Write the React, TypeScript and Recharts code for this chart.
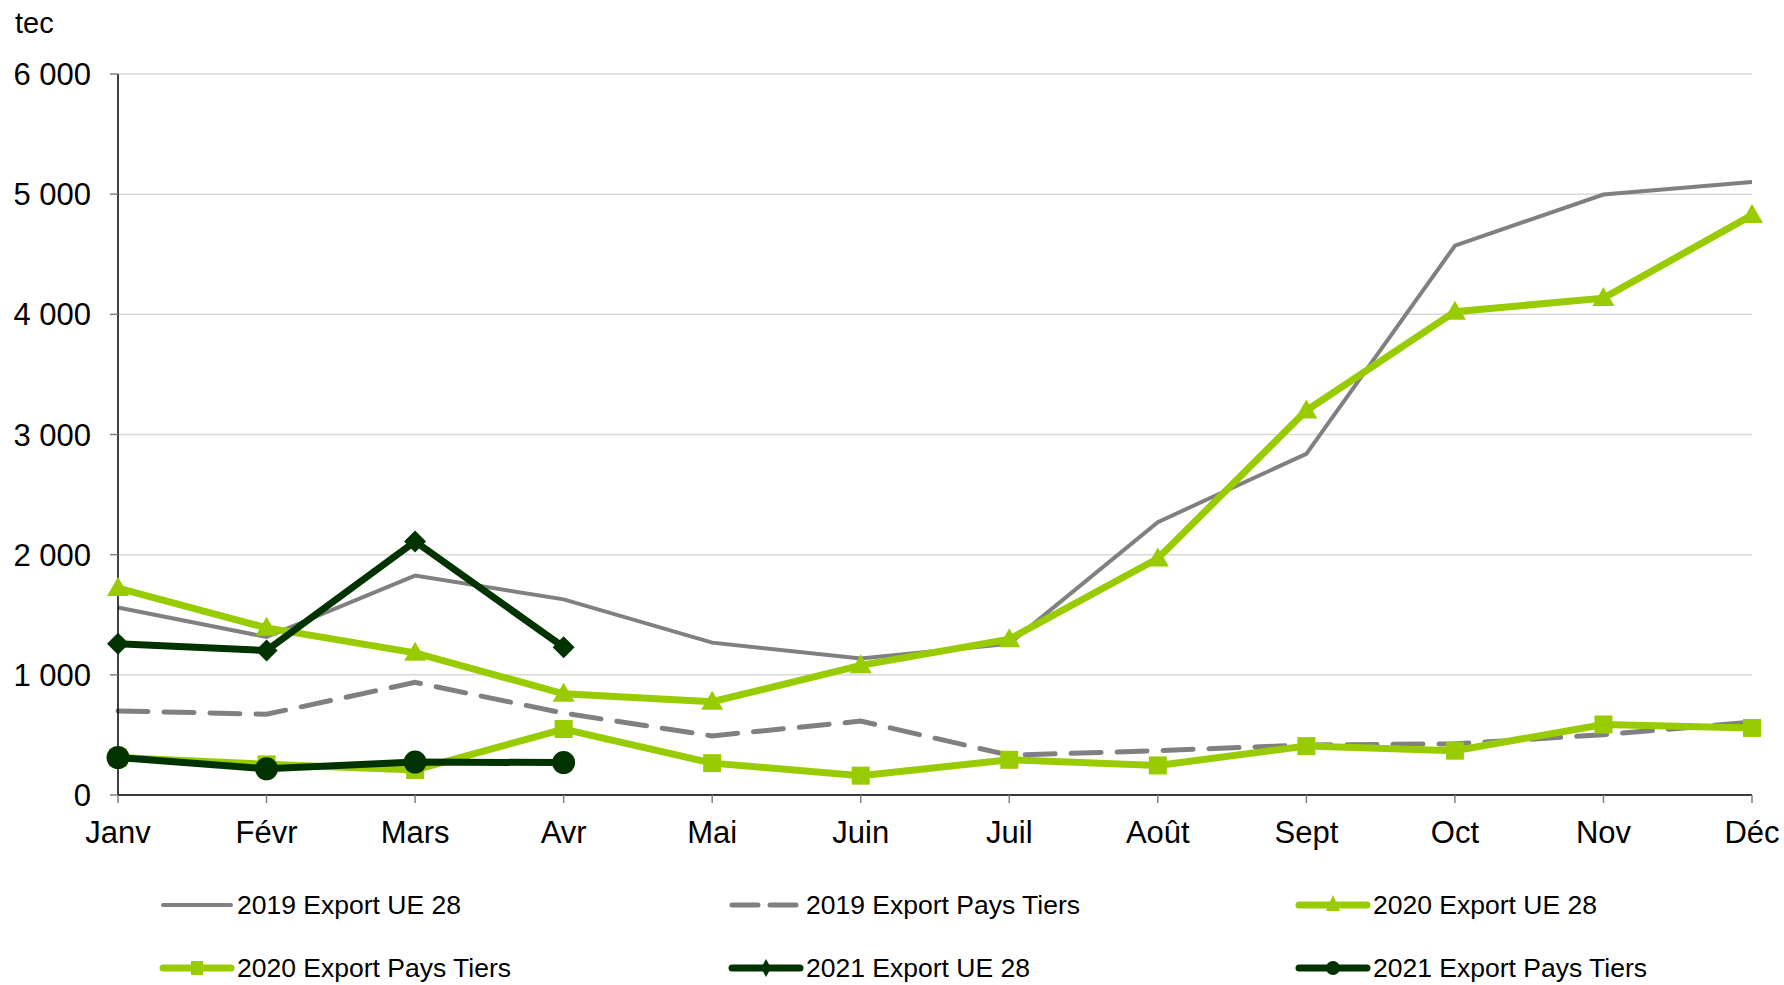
import { LineChart, Line, XAxis, YAxis, CartesianGrid, Legend } from 'recharts'

const months = ['Janv', 'Févr', 'Mars', 'Avr', 'Mai', 'Juin', 'Juil', 'Août', 'Sept', 'Oct', 'Nov', 'Déc']
const yTicks = [0, 1000, 2000, 3000, 4000, 5000, 6000]

const ue2019 = [1560, 1315, 1826, 1628, 1268, 1136, 1259, 2271, 2839, 4571, 4997, 5101]
const tiers2019 = [700, 672, 937, 681, 492, 615, 331, 369, 416, 426, 502, 606]
const ue2020 = [1722, 1391, 1183, 842, 776, 1079, 1296, 1968, 3199, 4022, 4135, 4826]
const tiers2020 = [312, 255, 208, 549, 265, 161, 293, 246, 407, 369, 587, 558]
const ue2021 = [1259, 1202, 2110, 1230]
const tiers2021 = [312, 218, 274, 270]

const GRAY = '#808080'
const LIME = '#99CC00'
const DARK = '#003300'

const data = months.map((m, i) => ({
    month: m,
    ue2019: ue2019[i],
    tiers2019: tiers2019[i],
    ue2020: ue2020[i],
    tiers2020: tiers2020[i],
    ue2021: ue2021[i] ?? null,
    tiers2021: tiers2021[i] ?? null,
}))

const fmt = (v: number) => (v === 0 ? '0' : `${v / 1000} 000`)

function marker(kind: string, color: string, cx: number, cy: number, key?: any) {
    if (kind === 'triangle') {
        return <polygon key={key} points={`${cx},${cy - 11} ${cx + 11},${cy + 8} ${cx - 11},${cy + 8}`} fill={color} />
    }
    if (kind === 'square') {
        return <rect key={key} x={cx - 9} y={cy - 9} width={18} height={18} fill={color} />
    }
    if (kind === 'diamond') {
        return <polygon key={key} points={`${cx},${cy - 11} ${cx + 11},${cy} ${cx},${cy + 11} ${cx - 11},${cy}`} fill={color} />
    }
    if (kind === 'circle') {
        return <circle key={key} cx={cx} cy={cy} r={11.5} fill={color} />
    }
    return null
}

const dotFor = (kind: string, color: string) => (p: any) => {
    if (p.cx == null || p.cy == null || p.value == null) return <g key={p.index} />
    return marker(kind, color, p.cx, p.cy, p.index)
}

const legendItems = [
    { name: '2019 Export UE 28', color: GRAY, width: 4, dash: undefined, kind: '', left: 159, top: 50 },
    { name: '2019 Export Pays Tiers', color: GRAY, width: 5, dash: '26 12', kind: '', left: 728, top: 50 },
    { name: '2020 Export UE 28', color: LIME, width: 7, dash: undefined, kind: 'triangle', left: 1295, top: 50 },
    { name: '2020 Export Pays Tiers', color: LIME, width: 7, dash: undefined, kind: 'square', left: 159, top: 113 },
    { name: '2021 Export UE 28', color: DARK, width: 7, dash: undefined, kind: 'diamond', left: 728, top: 113 },
    { name: '2021 Export Pays Tiers', color: DARK, width: 7, dash: undefined, kind: 'circle', left: 1295, top: 113 },
]

function LegendBox() {
    return (
        <div style={{ position: 'relative', width: 1784, height: 130 }}>
            {legendItems.map((it) => (
                <div
                    key={it.name}
                    style={{
                        position: 'absolute',
                        left: it.left,
                        top: it.top - 17,
                        height: 34,
                        display: 'flex',
                        alignItems: 'center',
                        whiteSpace: 'nowrap',
                    }}
                >
                    <svg width={78} height={34}>
                        <line x1={4} y1={17} x2={72} y2={17} stroke={it.color} strokeWidth={it.width} strokeLinecap="round" strokeDasharray={it.dash} />
                        {it.kind && (it.kind === 'circle'
                            ? <circle cx={38} cy={17} r={7} fill={it.color} />
                            : it.kind === 'triangle'
                            ? <polygon points="38,7 45,23 31,23" fill={it.color} />
                            : it.kind === 'square'
                            ? <rect x={32} y={10} width={12} height={14} fill={it.color} />
                            : <polygon points="38,8 43,17 38,26 33,17" fill={it.color} />)}
                    </svg>
                    <span style={{ fontSize: 26.5, lineHeight: '30px', color: '#000', fontFamily: '"Liberation Sans", Arial, sans-serif' }}>{it.name}</span>
                </div>
            ))}
        </div>
    )
}

export default function App() {
    return (
        <div style={{ position: 'absolute', left: 0, top: 0, width: 1784, height: 985, background: '#fff', overflow: 'hidden', fontFamily: '"Liberation Sans", Arial, sans-serif' }}>
            <LineChart width={1784} height={985} data={data} margin={{ top: 74, right: 32, bottom: 0, left: 0 }}>
                <CartesianGrid vertical={false} stroke="#d9d9d9" strokeWidth={1.5} />
                <XAxis
                    dataKey="month"
                    height={60}
                    tickSize={8}
                    tickMargin={18}
                    axisLine={{ stroke: '#000', strokeWidth: 1.5 }}
                    tickLine={{ stroke: '#808080', strokeWidth: 1.5 }}
                    tick={{ fill: '#000', fontSize: 31 }}
                    interval={0}
                />
                <YAxis
                    width={118}
                    domain={[0, 6000]}
                    ticks={yTicks}
                    tickFormatter={fmt}
                    tickSize={8}
                    tickMargin={19}
                    axisLine={{ stroke: '#000', strokeWidth: 1.5 }}
                    tickLine={{ stroke: '#808080', strokeWidth: 1.5 }}
                    tick={{ fill: '#000', fontSize: 31 }}
                    label={{ content: () => <text x={15} y={33} fontSize={29} fill="#000">tec</text> }}
                />
                <Legend content={() => <LegendBox />} wrapperStyle={{ left: 0, width: 1784 }} />
                <Line dataKey="ue2019" name="2019 Export UE 28" stroke={GRAY} strokeWidth={4} dot={false} isAnimationActive={false} />
                <Line dataKey="tiers2019" name="2019 Export Pays Tiers" stroke={GRAY} strokeWidth={5} strokeDasharray="30 16" strokeLinecap="round" dot={false} isAnimationActive={false} />
                <Line dataKey="ue2020" name="2020 Export UE 28" stroke={LIME} strokeWidth={7} dot={dotFor('triangle', LIME)} isAnimationActive={false} />
                <Line dataKey="tiers2020" name="2020 Export Pays Tiers" stroke={LIME} strokeWidth={7} dot={dotFor('square', LIME)} isAnimationActive={false} />
                <Line dataKey="ue2021" name="2021 Export UE 28" stroke={DARK} strokeWidth={7} dot={dotFor('diamond', DARK)} isAnimationActive={false} />
                <Line dataKey="tiers2021" name="2021 Export Pays Tiers" stroke={DARK} strokeWidth={7} dot={dotFor('circle', DARK)} isAnimationActive={false} />
            </LineChart>
        </div>
    )
}
